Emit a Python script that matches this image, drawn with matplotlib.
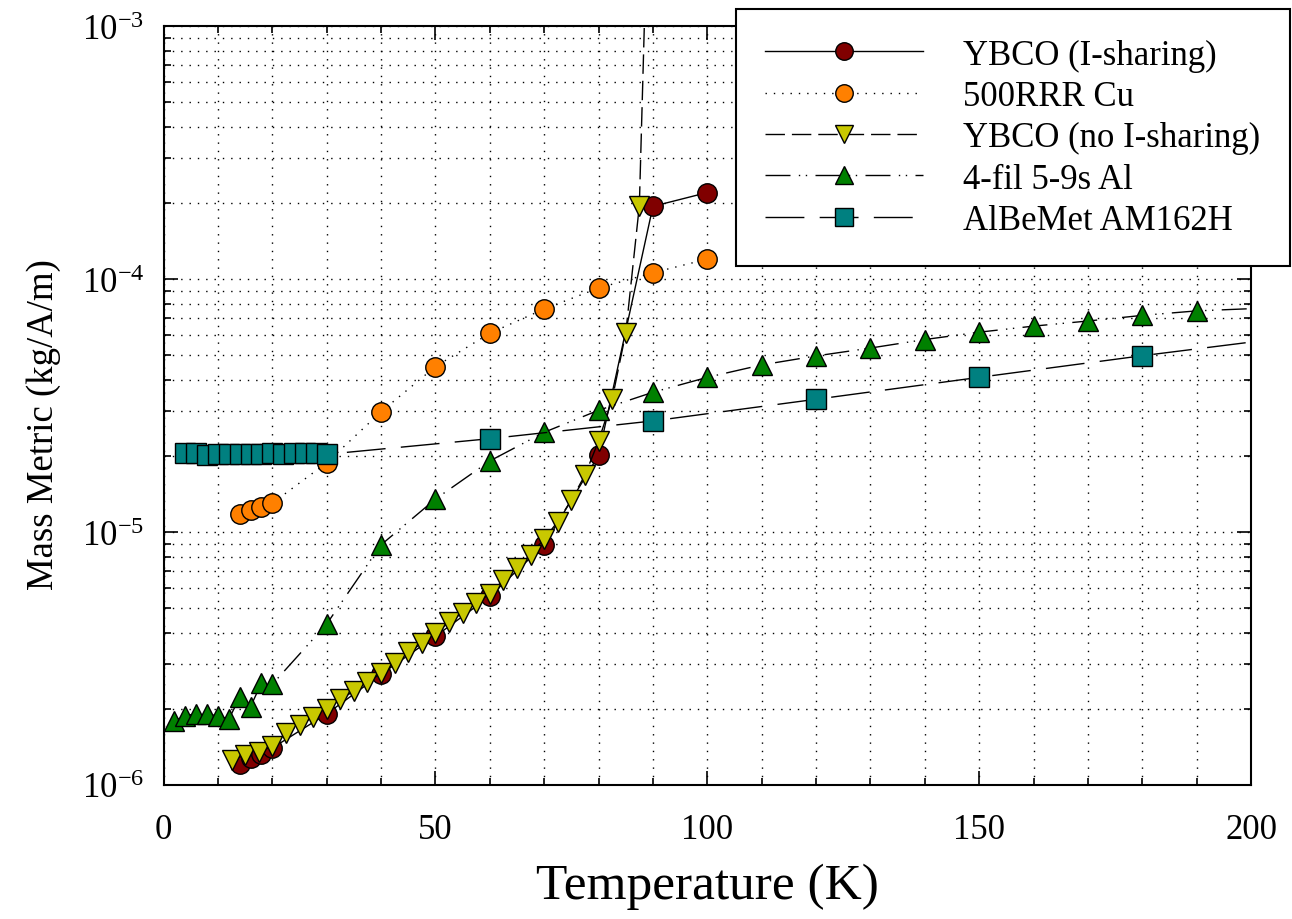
import numpy as np
import matplotlib.pyplot as plt
from matplotlib.ticker import MultipleLocator, LogLocator, NullFormatter

plt.rcParams["font.family"] = ["Liberation Serif", "DejaVu Serif"]
plt.rcParams["mathtext.fontset"] = "custom"
plt.rcParams["mathtext.rm"] = "Liberation Serif"
plt.rcParams["mathtext.it"] = "Liberation Serif:italic"

# YBCO with current sharing
ybco_share_T = [14, 16, 18, 20, 30, 40, 50, 60, 70, 80, 90, 100]
ybco_share_M = [1.21e-6, 1.28e-6, 1.33e-6, 1.40e-6, 1.91e-6, 2.74e-6, 3.87e-6,
                5.57e-6, 8.9e-6, 2.01e-5, 1.94e-4, 2.2e-4]

# 500RRR copper
cu_T = [14, 16, 18, 20, 30, 40, 50, 60, 70, 80, 90, 100]
cu_M = [1.18e-5, 1.22e-5, 1.26e-5, 1.30e-5, 1.88e-5, 2.99e-5, 4.51e-5,
        6.11e-5, 7.62e-5, 9.22e-5, 1.06e-4, 1.20e-4]

# YBCO without current sharing
ybco_no_T = [12.5, 15, 17.5, 20, 22.5, 25, 27.5, 30, 32.5, 35, 37.5, 40,
             42.5, 45, 47.5, 50, 52.5, 55, 57.5, 60, 62.5, 65, 67.5, 70,
             72.5, 75, 77.5, 80, 82.5, 85, 87.5, 90]
ybco_no_M = [1.26e-6, 1.31e-6, 1.35e-6, 1.42e-6, 1.61e-6, 1.73e-6, 1.85e-6,
             1.99e-6, 2.18e-6, 2.35e-6, 2.55e-6, 2.76e-6, 3.04e-6, 3.35e-6,
             3.63e-6, 4.00e-6, 4.39e-6, 4.80e-6, 5.26e-6, 5.68e-6, 6.47e-6,
             7.22e-6, 8.15e-6, 9.39e-6, 1.10e-5, 1.34e-5, 1.68e-5, 2.29e-5,
             3.35e-5, 6.12e-5, 1.95e-4, 1.7e-2]

# 4-filament 5-9s aluminium
al_T = [2, 4, 6, 8, 10, 12, 14, 16, 18, 20, 30, 40, 50, 60, 70, 80, 90, 100,
        110, 120, 130, 140, 150, 160, 170, 180, 190, 210]
al_M = [1.79e-6, 1.88e-6, 1.91e-6, 1.91e-6, 1.88e-6, 1.82e-6, 2.22e-6,
        2.04e-6, 2.53e-6, 2.50e-6, 4.33e-6, 8.9e-6, 1.35e-5, 1.91e-5,
        2.48e-5, 3.03e-5, 3.57e-5, 4.09e-5, 4.58e-5, 4.97e-5, 5.34e-5,
        5.77e-5, 6.17e-5, 6.52e-5, 6.83e-5, 7.19e-5, 7.49e-5, 7.8e-5]

# AlBeMet AM162H
albe_T = [4, 6, 8, 10, 12, 14, 16, 18, 20, 22, 24, 26, 28, 30,
          60, 90, 120, 150, 180, 210]
albe_M = [2.06e-5, 2.06e-5, 2.01e-5, 2.04e-5, 2.04e-5, 2.04e-5, 2.04e-5,
          2.04e-5, 2.06e-5, 2.03e-5, 2.06e-5, 2.06e-5, 2.06e-5, 2.03e-5,
          2.34e-5, 2.75e-5, 3.35e-5, 4.09e-5, 4.98e-5, 6.0e-5]

fig = plt.figure(figsize=(12.92, 9.2), dpi=100)
ax = fig.add_axes([0.1266, 0.1457, 0.8417, 0.8247])

ms = 14
ax.plot(ybco_share_T, ybco_share_M, color="black", lw=1.0, ls="-",
        marker="o", ms=ms, mfc="#800000", mec="black", mew=1.0,
        label="YBCO (I-sharing)")
ax.plot(cu_T, cu_M, color="black", lw=1.0, ls=(0, (1, 5)),
        marker="o", ms=ms, mfc="#FF8000", mec="black", mew=1.0,
        label="500RRR Cu")
ax.plot(ybco_no_T, ybco_no_M, color="black", lw=1.0, ls=(0, (14, 5)),
        marker="v", ms=ms + 1, mfc="#C8C800", mec="black", mew=1.0,
        label="YBCO (no I-sharing)")
ax.plot(al_T, al_M, color="black", lw=1.0, ls=(0, (18, 6, 1, 4, 1, 6)),
        marker="^", ms=ms + 1, mfc="#008000", mec="black", mew=1.0,
        label="4-fil 5-9s Al")
ax.plot(albe_T, albe_M, color="black", lw=1.0, ls=(0, (28, 11)),
        marker="s", ms=ms, mfc="#008080", mec="black", mew=1.0,
        label="AlBeMet AM162H")

ax.set_yscale("log")
ax.set_xlim(0, 200)
ax.set_ylim(1e-6, 1e-3)
ax.xaxis.set_major_locator(MultipleLocator(50))
ax.xaxis.set_minor_locator(MultipleLocator(10))
ax.yaxis.set_major_locator(LogLocator(base=10, numticks=10))
ax.yaxis.set_minor_locator(LogLocator(base=10, subs=np.arange(2, 10), numticks=20))
ax.yaxis.set_minor_formatter(NullFormatter())

ax.grid(True, which="both", color="black", ls=(0, (1, 5)), lw=1.0)
ax.tick_params(which="both", direction="in", top=True, right=True,
               labelsize=25, width=1.2)
ax.tick_params(which="major", length=10, pad=14)
ax.tick_params(axis="x", which="major", pad=20)
ax.tick_params(which="minor", length=5)
for sp in ax.spines.values():
    sp.set_linewidth(1.5)

ax.set_xlabel("Temperature (K)", fontsize=37, labelpad=12)
ax.set_ylabel("Mass Metric (kg/A/m)", fontsize=26.5)
ax.yaxis.set_label_coords(-0.094, 0.476)

leg = ax.legend(loc="upper right", bbox_to_anchor=(1290 / 1292, 1 - 10 / 920),
                bbox_transform=fig.transFigure, fontsize=25, frameon=True,
                fancybox=False, framealpha=1, edgecolor="black",
                handlelength=4.55, handletextpad=1.15, labelspacing=0.24,
                borderpad=0.85, borderaxespad=0, markerscale=0.9)
leg.get_frame().set_linewidth(1.5)

fig.savefig("out.png", dpi=100)
